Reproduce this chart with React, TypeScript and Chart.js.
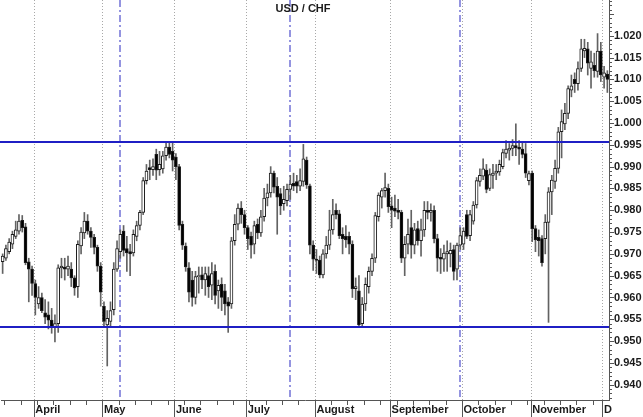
import React, { useEffect, useRef } from 'react';
import { Chart, registerables } from 'chart.js';

Chart.register(...registerables);

// ---- data (USD/CHF daily candles, 18 Mar – 2 Dec) ----
const chartTitle = 'USD / CHF';

const opens = [
  0.9682, 0.9690, 0.9705, 0.9722, 0.9740, 0.9752, 0.9777, 0.9762, 0.9682, 0.9665,
  0.9632, 0.9585, 0.9600, 0.9565, 0.9560, 0.9548, 0.9532, 0.9540, 0.9668, 0.9670,
  0.9665, 0.9665, 0.9645, 0.9625, 0.9718, 0.9748, 0.9775, 0.9752, 0.9738, 0.9715,
  0.9672, 0.9580, 0.9537, 0.9545, 0.9572, 0.9665, 0.9705, 0.9752, 0.9712, 0.9705,
  0.9702, 0.9740, 0.9765, 0.9795, 0.9868, 0.9898, 0.9893, 0.9928, 0.9893, 0.9895,
  0.9925, 0.9945, 0.9935, 0.9922, 0.9900, 0.9768, 0.9718, 0.9668, 0.9640, 0.9600,
  0.9648, 0.9652, 0.9640, 0.9650, 0.9628, 0.9660, 0.9615, 0.9630, 0.9615, 0.9590,
  0.9585, 0.9730, 0.9768, 0.9805, 0.9790, 0.9760, 0.9740, 0.9722, 0.9768, 0.9748,
  0.9785, 0.9828, 0.9840, 0.9885, 0.9855, 0.9838, 0.9815, 0.9822, 0.9848, 0.9862,
  0.9866, 0.9855, 0.9866, 0.9915, 0.9856, 0.9720, 0.9688, 0.9686, 0.9652, 0.9700,
  0.9720, 0.9755, 0.9800, 0.9792, 0.9745, 0.9740, 0.9740, 0.9722, 0.9620, 0.9615,
  0.9540, 0.9585, 0.9625, 0.9660, 0.9690, 0.9785, 0.9830, 0.9845, 0.9850, 0.9810,
  0.9805, 0.9800, 0.9795, 0.9690, 0.9722, 0.9760, 0.9720, 0.9758, 0.9730, 0.9755,
  0.9800, 0.9795, 0.9800, 0.9735, 0.9692, 0.9688, 0.9700, 0.9700, 0.9710, 0.9665,
  0.9720, 0.9722, 0.9790, 0.9742, 0.9775, 0.9812, 0.9866, 0.9878, 0.9892, 0.9850,
  0.9880, 0.9885, 0.9888, 0.9900, 0.9930, 0.9938, 0.9942, 0.9948, 0.9945, 0.9940,
  0.9930, 0.9868, 0.9885, 0.9758, 0.9738, 0.9735, 0.9735, 0.9772, 0.9842, 0.9866,
  0.9896, 0.9980, 0.9998, 1.0022, 1.0075, 1.0100, 1.0090, 1.0125, 1.0165, 1.0170,
  1.0125, 1.0132, 1.0118, 1.0165, 1.0105, 1.0112,
];

const highs = [
  0.9700, 0.9720, 0.9735, 0.9752, 0.9775, 0.9790, 0.9788, 0.9770, 0.9690, 0.9672,
  0.9640, 0.9625, 0.9610, 0.9595, 0.9590, 0.9575, 0.9560, 0.9675, 0.9690, 0.9690,
  0.9695, 0.9680, 0.9650, 0.9730, 0.9760, 0.9795, 0.9790, 0.9760, 0.9745, 0.9720,
  0.9680, 0.9590, 0.9570, 0.9590, 0.9680, 0.9730, 0.9755, 0.9765, 0.9740, 0.9722,
  0.9755, 0.9775, 0.9800, 0.9875, 0.9905, 0.9915, 0.9918, 0.9940, 0.9935, 0.9935,
  0.9955, 0.9958, 0.9955, 0.9930, 0.9905, 0.9775, 0.9725, 0.9680, 0.9660, 0.9660,
  0.9670, 0.9670, 0.9670, 0.9670, 0.9680, 0.9675, 0.9640, 0.9645, 0.9630, 0.9600,
  0.9738, 0.9790, 0.9815, 0.9820, 0.9800, 0.9765, 0.9750, 0.9775, 0.9780, 0.9800,
  0.9850, 0.9860, 0.9900, 0.9890, 0.9875, 0.9850, 0.9855, 0.9860, 0.9880, 0.9885,
  0.9880, 0.9895, 0.9951, 0.9922, 0.9860, 0.9730, 0.9710, 0.9695, 0.9710, 0.9740,
  0.9800, 0.9825, 0.9815, 0.9800, 0.9760, 0.9765, 0.9750, 0.9730, 0.9645, 0.9650,
  0.9600, 0.9645, 0.9670, 0.9700, 0.9795, 0.9840, 0.9850, 0.9885, 0.9860, 0.9830,
  0.9835, 0.9825, 0.9800, 0.9740, 0.9780, 0.9800, 0.9770, 0.9775, 0.9780, 0.9820,
  0.9820, 0.9815, 0.9810, 0.9745, 0.9712, 0.9720, 0.9730, 0.9725, 0.9720, 0.9725,
  0.9760, 0.9760, 0.9800, 0.9800, 0.9820, 0.9875, 0.9895, 0.9918, 0.9905, 0.9895,
  0.9905, 0.9905, 0.9915, 0.9940, 0.9960, 0.9953, 0.9962, 0.9998, 0.9960, 0.9955,
  0.9953, 0.9890, 0.9890, 0.9765, 0.9755, 0.9742, 0.9790, 0.9852, 0.9880, 0.9915,
  0.9990, 1.0030, 1.0045, 1.0085, 1.0110, 1.0115, 1.0140, 1.0192, 1.0192, 1.0185,
  1.0165, 1.0160, 1.0205, 1.0185, 1.0130, 1.0120,
];

const lows = [
  0.9655, 0.9685, 0.9700, 0.9712, 0.9735, 0.9745, 0.9750, 0.9675, 0.9590, 0.9605,
  0.9560, 0.9575, 0.9565, 0.9540, 0.9528, 0.9518, 0.9498, 0.9520, 0.9645, 0.9640,
  0.9650, 0.9625, 0.9605, 0.9600, 0.9700, 0.9735, 0.9745, 0.9715, 0.9700, 0.9660,
  0.9580, 0.9535, 0.9443, 0.9535, 0.9560, 0.9660, 0.9690, 0.9695, 0.9660, 0.9650,
  0.9695, 0.9730, 0.9755, 0.9790, 0.9860, 0.9870, 0.9880, 0.9870, 0.9880, 0.9885,
  0.9915, 0.9920, 0.9890, 0.9870, 0.9755, 0.9710, 0.9660, 0.9590, 0.9580, 0.9585,
  0.9610, 0.9620, 0.9605, 0.9600, 0.9595, 0.9585, 0.9575, 0.9570, 0.9560, 0.9520,
  0.9575, 0.9720, 0.9755, 0.9770, 0.9745, 0.9710, 0.9690, 0.9700, 0.9735, 0.9740,
  0.9775, 0.9810, 0.9830, 0.9840, 0.9745, 0.9790, 0.9800, 0.9810, 0.9825, 0.9845,
  0.9840, 0.9845, 0.9855, 0.9850, 0.9700, 0.9662, 0.9655, 0.9645, 0.9645, 0.9690,
  0.9710, 0.9745, 0.9780, 0.9735, 0.9700, 0.9715, 0.9700, 0.9600, 0.9595, 0.9532,
  0.9532, 0.9570, 0.9610, 0.9650, 0.9680, 0.9775, 0.9805, 0.9830, 0.9795, 0.9760,
  0.9785, 0.9780, 0.9680, 0.9650, 0.9700, 0.9690, 0.9700, 0.9720, 0.9695, 0.9740,
  0.9780, 0.9775, 0.9725, 0.9660, 0.9655, 0.9660, 0.9660, 0.9670, 0.9640, 0.9640,
  0.9710, 0.9710, 0.9735, 0.9730, 0.9768, 0.9805, 0.9855, 0.9870, 0.9840, 0.9845,
  0.9850, 0.9870, 0.9880, 0.9895, 0.9920, 0.9915, 0.9925, 0.9925, 0.9905, 0.9920,
  0.9875, 0.9858, 0.9728, 0.9705, 0.9695, 0.9672, 0.9700, 0.9543, 0.9790, 0.9850,
  0.9885, 0.9920, 0.9985, 1.0010, 1.0060, 1.0070, 1.0075, 1.0118, 1.0150, 1.0110,
  1.0080, 1.0105, 1.0105, 1.0095, 1.0080, 1.0070,
];

const closes = [
  0.9695, 0.9712, 0.9727, 0.9745, 0.9755, 0.9775, 0.9760, 0.9680, 0.9665, 0.9632,
  0.9600, 0.9600, 0.9570, 0.9555, 0.9548, 0.9532, 0.9540, 0.9668, 0.9672, 0.9665,
  0.9672, 0.9645, 0.9622, 0.9722, 0.9750, 0.9775, 0.9752, 0.9738, 0.9715, 0.9672,
  0.9612, 0.9545, 0.9552, 0.9570, 0.9665, 0.9712, 0.9745, 0.9708, 0.9702, 0.9700,
  0.9745, 0.9765, 0.9795, 0.9868, 0.9890, 0.9893, 0.9900, 0.9892, 0.9905, 0.9925,
  0.9945, 0.9928, 0.9915, 0.9900, 0.9765, 0.9720, 0.9670, 0.9612, 0.9600, 0.9648,
  0.9650, 0.9640, 0.9655, 0.9625, 0.9655, 0.9605, 0.9628, 0.9600, 0.9585, 0.9580,
  0.9730, 0.9768, 0.9805, 0.9790, 0.9760, 0.9735, 0.9720, 0.9765, 0.9748, 0.9785,
  0.9828, 0.9840, 0.9885, 0.9853, 0.9830, 0.9810, 0.9825, 0.9848, 0.9860, 0.9855,
  0.9855, 0.9868, 0.9918, 0.9858, 0.9720, 0.9688, 0.9685, 0.9652, 0.9700, 0.9720,
  0.9755, 0.9790, 0.9790, 0.9742, 0.9735, 0.9732, 0.9722, 0.9620, 0.9625, 0.9537,
  0.9585, 0.9630, 0.9660, 0.9690, 0.9788, 0.9835, 0.9845, 0.9852, 0.9808, 0.9800,
  0.9798, 0.9795, 0.9690, 0.9722, 0.9745, 0.9720, 0.9755, 0.9730, 0.9755, 0.9800,
  0.9795, 0.9800, 0.9735, 0.9690, 0.9688, 0.9702, 0.9705, 0.9708, 0.9660, 0.9720,
  0.9742, 0.9752, 0.9740, 0.9790, 0.9812, 0.9868, 0.9880, 0.9895, 0.9848, 0.9882,
  0.9885, 0.9890, 0.9905, 0.9932, 0.9940, 0.9942, 0.9948, 0.9943, 0.9940, 0.9928,
  0.9885, 0.9884, 0.9758, 0.9732, 0.9730, 0.9680, 0.9773, 0.9842, 0.9869, 0.9896,
  0.9980, 1.0003, 1.0022, 1.0079, 1.0085, 1.0090, 1.0125, 1.0170, 1.0171, 1.0137,
  1.0140, 1.0120, 1.0165, 1.0110, 1.0115, 1.0100,
];

const monthLabels = ['April', 'May', 'June', 'July', 'August', 'September', 'October', 'November', 'D'];
const monthStarts = [10, 31, 53, 75, 96, 119, 141, 162, 184];
const eventIndices = [36, 88, 140];
const levels = [0.9956, 0.9532];
const yTickValues = [
  0.940, 0.945, 0.950, 0.955, 0.960, 0.965, 0.970, 0.975, 0.980,
  0.985, 0.990, 0.995, 1.000, 1.005, 1.010, 1.015, 1.020,
];
const yMin = 0.9365;
const yMax = 1.0282;
const firstDay = '2016-03-18';

// trading-day calendar (weekdays) used as categories
function tradingDays(start: string, n: number): Date[] {
  const out: Date[] = [];
  const d = new Date(start + 'T12:00:00Z');
  while (out.length < n) {
    const wd = d.getUTCDay();
    if (wd !== 0 && wd !== 6) out.push(new Date(d.getTime()));
    d.setUTCDate(d.getUTCDate() + 1);
  }
  return out;
}
const days = tradingDays(firstDay, opens.length);
const categories = days.map((d) => d.toISOString().slice(0, 10));

const FONT = 'Arial, "Liberation Sans", Helvetica, sans-serif';

const decor = {
  id: 'decor',
  beforeDatasetsDraw(chart: any) {
    const { ctx, chartArea: a, scales } = chart;
    const x = scales.x;
    const w = (a.right - a.left) / categories.length;
    ctx.save();
    ctx.lineWidth = 1;
    ctx.strokeStyle = '#a8a8a8';
    ctx.setLineDash([1, 2]);
    for (const i of monthStarts) {
      const px = Math.round(x.getPixelForValue(i) - w / 2) + 0.5;
      ctx.beginPath();
      ctx.moveTo(px, a.top);
      ctx.lineTo(px, a.bottom);
      ctx.stroke();
    }
    ctx.setLineDash([7, 3, 2, 3]);
    ctx.strokeStyle = '#7272d6';
    ctx.lineWidth = 1.5;
    for (const i of eventIndices) {
      const px = Math.round(x.getPixelForValue(i));
      ctx.beginPath();
      ctx.moveTo(px, a.top);
      ctx.lineTo(px, a.bottom);
      ctx.stroke();
    }
    ctx.restore();
  },
  afterDatasetsDraw(chart: any) {
    const { ctx, chartArea: a, scales } = chart;
    const y = scales.y;
    ctx.save();
    ctx.strokeStyle = '#1f1fc4';
    ctx.lineWidth = 2;
    for (const v of levels) {
      const py = Math.round(y.getPixelForValue(v));
      ctx.beginPath();
      ctx.moveTo(0, py);
      ctx.lineTo(a.right, py);
      ctx.stroke();
    }
    ctx.restore();
  },
  afterDraw(chart: any) {
    const { ctx, chartArea: a, scales } = chart;
    const x = scales.x;
    const y = scales.y;
    const w = (a.right - a.left) / categories.length;
    ctx.save();
    ctx.strokeStyle = '#555';
    ctx.lineWidth = 1;
    // bottom ticks: long at month starts, short at Mondays
    for (let i = 0; i < categories.length; i++) {
      const px = Math.round(x.getPixelForValue(i) - w / 2) + 0.5;
      let len = 0;
      if (monthStarts.includes(i)) len = 17;
      else if (days[i].getUTCDay() === 1) len = 5;
      if (!len) continue;
      ctx.beginPath();
      ctx.moveTo(px, a.bottom);
      ctx.lineTo(px, a.bottom + len);
      ctx.stroke();
    }
    // right axis minor / major ticks
    for (let k = Math.ceil(yMin * 1000); k <= Math.floor(yMax * 1000); k++) {
      const py = Math.round(y.getPixelForValue(k / 1000)) + 0.5;
      const len = k % 5 === 0 ? 5 : 3;
      ctx.beginPath();
      ctx.moveTo(a.right, py);
      ctx.lineTo(a.right + len, py);
      ctx.stroke();
    }
    // title
    ctx.fillStyle = '#1a1a1a';
    ctx.font = 'bold 11px ' + FONT;
    ctx.textAlign = 'center';
    ctx.textBaseline = 'middle';
    ctx.fillText(chartTitle, 303, 9);
    ctx.restore();
  },
};

export default function App() {
  const ref = useRef<HTMLCanvasElement | null>(null);

  useEffect(() => {
    if (!ref.current) return;
    const chart = new Chart(ref.current, {
      type: 'bar',
      data: {
        labels: categories,
        datasets: [
          {
            label: 'body',
            data: opens.map((o, i) => [o, closes[i]]) as any,
            backgroundColor: (c: any) =>
              closes[c.dataIndex] >= opens[c.dataIndex] ? '#ffffff' : '#000000',
            borderColor: '#1c1c1c',
            borderWidth: 1,
            borderSkipped: false,
            barThickness: 3,
            minBarLength: 1,
            order: 0,
          } as any,
          {
            label: 'wick',
            data: lows.map((l, i) => [l, highs[i]]) as any,
            backgroundColor: '#626262',
            borderWidth: 0,
            barThickness: 1,
            order: 1,
          } as any,
        ],
      },
      options: {
        animation: false,
        responsive: true,
        maintainAspectRatio: false,
        layout: { padding: { left: 1, right: 0, top: 0, bottom: 0 } },
        datasets: { bar: { grouped: false } } as any,
        plugins: {
          legend: { display: false },
          tooltip: { enabled: false },
          title: { display: false },
        },
        scales: {
          x: {
            type: 'category',
            offset: true,
            grid: { display: false, drawTicks: false },
            border: { display: true, color: '#555', width: 1 },
            ticks: {
              autoSkip: false,
              maxRotation: 0,
              minRotation: 0,
              align: 'start',
              padding: 3,
              color: '#1a1a1a',
              font: { family: FONT, size: 11, weight: 'bold' },
              callback: (_v: any, i: number) => {
                const k = monthStarts.indexOf(i);
                return k >= 0 ? monthLabels[k] : '';
              },
            },
            afterFit: (s: any) => {
              s.height = 17;
              s.paddingLeft = 0;
              s.paddingRight = 0;
            },
          } as any,
          y: {
            type: 'linear',
            position: 'right',
            min: yMin,
            max: yMax,
            grid: { display: false, drawTicks: false },
            border: { display: true, color: '#555', width: 1 },
            afterBuildTicks: (s: any) => {
              s.ticks = yTickValues.map((v) => ({ value: v }));
            },
            ticks: {
              padding: 5,
              color: '#1a1a1a',
              font: { family: FONT, size: 11, weight: 'bold' },
              callback: (v: any) => Number(v).toFixed(3),
            },
            afterFit: (s: any) => {
              s.width = 34;
              s.paddingTop = 0;
              s.paddingBottom = 0;
            },
          } as any,
        },
      },
      plugins: [decor],
    });
    return () => chart.destroy();
  }, []);

  return (
    <div
      style={{
        position: 'fixed',
        left: 0,
        top: 0,
        width: 643,
        height: 417,
        background: '#ffffff',
      }}
    >
      <canvas ref={ref} />
    </div>
  );
}
